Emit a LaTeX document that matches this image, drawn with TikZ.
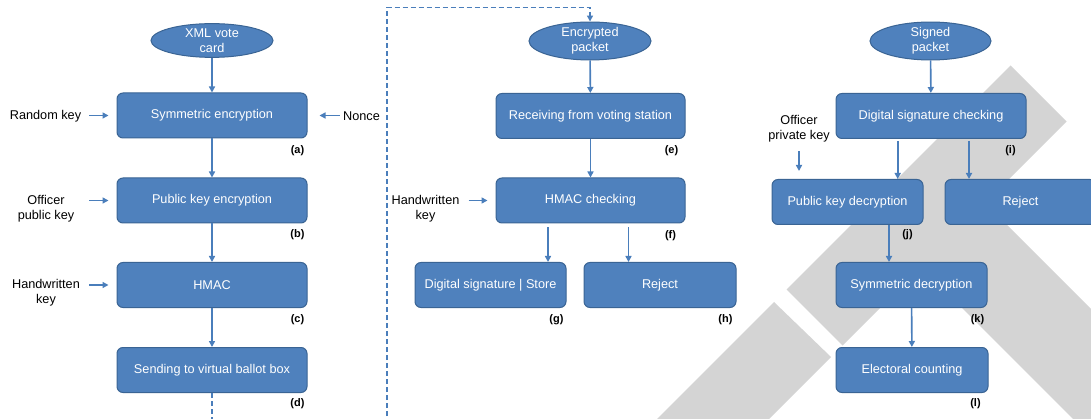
\documentclass[tikz,border=0pt]{standalone}
\usepackage{fontspec}
\setmainfont{Liberation Sans}
\usetikzlibrary{shapes.geometric,arrows.meta,calc}
\definecolor{boxfill}{HTML}{4F81BD}
\definecolor{boxline}{HTML}{3A6494}
\definecolor{arrowc}{HTML}{4A7EBB}
\definecolor{wm}{RGB}{212,212,212}
\tikzset{
  box/.style={draw=boxline, line width=1pt, fill=boxfill, rounded corners=6pt,
    minimum height=45pt, inner sep=0pt, text=white, font=\fontsize{12.7}{15}\selectfont},
  oval/.style={ellipse, draw=boxline, line width=1pt, fill=boxfill, inner sep=0pt,
    minimum height=32pt, text=white, align=center, font=\fontsize{12.7}{15}\selectfont},
  lbl/.style={font=\fontsize{12.7}{15}\selectfont, align=center, inner sep=0pt},
  tag/.style={font=\bfseries\fontsize{11}{13}\selectfont, inner sep=0pt},
  arr/.style={draw=arrowc, line width=1.6pt, -{Triangle[length=6pt,width=6pt]}},
  dashline/.style={arr, dash pattern=on 5pt off 3pt},
  wmark/.style={fill=wm, draw=none},
}
\begin{document}
\begin{tikzpicture}[x=1pt,y=-1pt]
\clip (0,0) rectangle (1091,419);
\fill[white] (0,0) rectangle (1091,419);
% watermark
\path[wmark] (774,302) -- (831,357) -- (728,460) -- (616,460) -- cycle;
\path[wmark] (786.5,289.5) -- (1010.5,65.5) -- (1066.5,121.5) -- (842.5,345.5) -- cycle;
\path[wmark] (877,223) -- (941,159) -- (1241,459) -- (1177,523) -- cycle;

% column 1
\node[oval, minimum width=122pt] (xml) at (212,40.5) {XML vote\\card};
\node[box, minimum width=190pt] (a) at (212,115.5) {Symmetric encryption};
\node[box, minimum width=190pt] (b) at (212,200.5) {Public key encryption};
\node[box, minimum width=190pt] (c) at (212,285) {HMAC};
\node[box, minimum width=190pt] (d) at (212,370) {Sending to virtual ballot box};
\node[tag] (ta) at ($(a.south east)+(-10,12)$) {(a)};
\node[tag] (tb) at ($(b.south east)+(-10,11.5)$) {(b)};
\node[tag] (tc) at ($(c.south east)+(-10,11.5)$) {(c)};
\node[tag] (td) at ($(d.south east)+(-10,10.5)$) {(d)};
\node[lbl] (rk) at (45.5,116.5) {Random key};
\node[lbl] (nonce) at (361.5,116.5) {Nonce};
\node[lbl] (opk) at (46,208.5) {Officer\\public key};
\node[lbl] (hk1) at (46,293) {Handwritten\\key};

% column 2
\node[oval, minimum width=122pt] (ep) at (590,41) {Encrypted\\packet};
\node[box, minimum width=189pt] (e) at (590.5,116) {Receiving from voting station};
\node[box, minimum width=189pt] (f) at (590.5,200.5) {HMAC checking};
\node[box, minimum width=151pt] (g) at (490.5,285) {Digital signature | Store};
\node[box, minimum width=152pt] (h) at (660,285) {Reject};
\node[tag] (te) at ($(e.south east)+(-14,12)$) {(e)};
\node[tag] (tf) at ($(f.south east)+(-15,12)$) {(f)};
\node[tag] (tg) at ($(g.south east)+(-10,12)$) {(g)};
\node[tag] (th) at ($(h.south east)+(-11,12)$) {(h)};
\node[lbl] (hk2) at (425.5,208.5) {Handwritten\\key};

% column 3
\node[oval, minimum width=121pt] (sp) at (930.5,41) {Signed\\packet};
\node[box, minimum width=190pt] (i) at (931,116) {Digital signature checking};
\node[box, minimum width=151pt] (j) at (847.5,202) {Public key decryption};
\node[box, minimum width=151pt] (r3) at (1020.5,202) {Reject};
\node[box, minimum width=151pt] (k) at (911.5,285) {Symmetric decryption};
\node[box, minimum width=152pt] (l) at (912,370) {Electoral counting};
\node[tag] (ti) at ($(i.south east)+(-16,12)$) {(i)};
\node[tag] (tj) at ($(j.south east)+(-16,10)$) {(j)};
\node[tag] (tk) at ($(k.south east)+(-10,12)$) {(k)};
\node[tag] (tl) at ($(l.south east)+(-13,10.5)$) {(l)};
\node[lbl] (oprk) at (799,128.5) {Officer\\private key};

% connectors column 1
\draw[arr] (xml) -- (a);
\draw[arr] (a) -- (b);
\draw[arr] (b) -- (c);
\draw[arr] (c) -- (d);
\draw[arr, shorten <=8pt, shorten >=8pt] (a.west -| rk.east) -- (a.west);
\draw[arr, shorten <=3pt, shorten >=12pt] (a.east -| nonce.west) -- (a.east);
\draw[arr, shorten <=15pt, shorten >=8pt] (b.west -| opk.east) -- (b.west);
\draw[arr, shorten <=9pt, shorten >=8pt] (c.west -| hk1.east) -- (c.west);

% dashed link
\coordinate (lb) at (387,445);
\coordinate (lt) at (387,7.5);
\draw[dashline] (d.south) |- (lb) -- (lt) -| (ep.north);

% connectors column 2
\draw[arr] (ep) -- (e);
\draw[arr] (e) -- (f);
\draw[arr, shorten <=9pt, shorten >=8pt] (f.west -| hk2.east) -- (f.west);
\draw[arr] ($(f.south)+(-42.5,4)$) -- ($(g.north)+(57.5,0)$);
\draw[arr] ($(f.south)+(38,4)$) -- ($(h.north)+(-31.5,0)$);

% connectors column 3
\draw[arr] (sp) -- (i);
\draw[arr] ($(i.south)+(-33.3,2)$) -- ($(j.north)+(50.2,0)$);
\draw[arr] ($(i.south)+(38,2)$) -- ($(r3.north)+(-51.5,0)$);
\draw[arr, shorten <=9pt, shorten >=8pt] (oprk.south) -- (oprk.south |- j.north);
\draw[arr] ($(j.south)+(41.5,0)$) -- ($(k.north)+(-22.5,0)$);
\draw[arr] (k) -- (l);
\end{tikzpicture}
\end{document}
